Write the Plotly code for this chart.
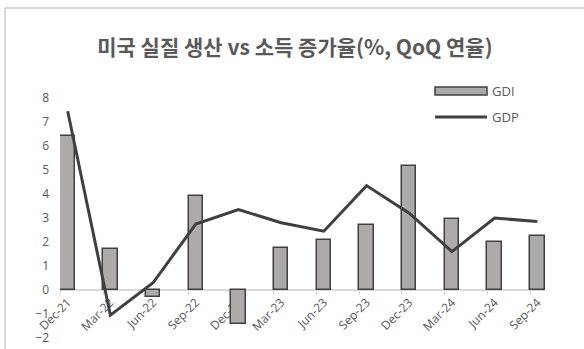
import plotly.graph_objects as go

quarters = ["Dec-21", "Mar-22", "Jun-22", "Sep-22", "Dec-22", "Mar-23",
            "Jun-23", "Sep-23", "Dec-23", "Mar-24", "Jun-24", "Sep-24"]
gdi = [6.4, 1.7, -0.3, 3.9, -1.4, 1.75, 2.1, 2.7, 5.15, 2.95, 2.0, 2.25]
gdp = [7.45, -1.05, 0.3, 2.75, 3.35, 2.8, 2.45, 4.35, 3.2, 1.6, 3.0, 2.85]
y_ticks = [-2, -1, 0, 1, 2, 3, 4, 5, 6, 7, 8]

W, H = 584, 349
ML, MR, MT, MB = 60, 39, 98, 11
PW, PH = W - ML - MR, H - MT - MB

def px(x):
    return (x - ML) / PW

def py(y):
    return (H - MB - y) / PH

xs = list(range(len(quarters)))
gray_txt = "#595959"
dark = "#404040"
bar_fill = "#AEAAAA"
border = "#d9d9d9"

fig = go.Figure()
fig.add_trace(go.Bar(x=xs, y=gdi, name="GDI", width=0.34,
                     marker=dict(color=bar_fill, line=dict(color=dark, width=1.5)),
                     showlegend=False))
fig.add_trace(go.Scatter(x=xs, y=gdp, name="GDP", mode="lines",
                         line=dict(color=dark, width=3), showlegend=False))

shapes = [
    dict(type="line", xref="paper", yref="paper", x0=px(5), x1=px(5),
         y0=py(349), y1=py(8), line=dict(color=border, width=2)),
    dict(type="line", xref="paper", yref="paper", x0=px(5), x1=px(584),
         y0=py(8), y1=py(8), line=dict(color=border, width=2)),
    dict(type="rect", xref="paper", yref="paper", x0=px(435), x1=px(487),
         y0=py(95), y1=py(87), fillcolor=bar_fill, line=dict(color=dark, width=1.5)),
    dict(type="line", xref="paper", yref="paper", x0=px(435), x1=px(487),
         y0=py(117), y1=py(117), line=dict(color=dark, width=3)),
]
annotations = [
    dict(text="GDI", xref="paper", yref="paper", x=px(490), y=py(91),
         xanchor="left", yanchor="middle", showarrow=False,
         font=dict(family="Open Sans", size=13, color=gray_txt)),
    dict(text="GDP", xref="paper", yref="paper", x=px(490), y=py(117),
         xanchor="left", yanchor="middle", showarrow=False,
         font=dict(family="Open Sans", size=13, color=gray_txt)),
]

fig.update_layout(
    width=W, height=H,
    margin=dict(l=ML, r=MR, t=MT, b=MB, autoexpand=False),
    paper_bgcolor="white", plot_bgcolor="white",
    title=dict(text="<b>미국 실질 생산 vs 소득 증가율(%, QoQ 연율)</b>",
               x=0.505, xref="container", xanchor="center",
               y=1 - 48 / H, yref="container", yanchor="middle",
               font=dict(family="Noto Sans CJK KR", size=21, color=gray_txt)),
    shapes=shapes, annotations=annotations,
    xaxis=dict(range=[-0.18, 11.18], tickmode="array", tickvals=xs, ticktext=quarters,
               tickangle=-45, anchor="free", position=0.2, automargin=False,
               showline=True, linecolor=border, linewidth=1.5,
               showgrid=False, zeroline=False, ticks="", layer="below traces",
               tickfont=dict(family="Open Sans", size=12, color=gray_txt),
               minor=dict(tickmode="linear", tick0=-0.17, dtick=1, ticks="outside",
                          ticklen=4, tickcolor=border, tickwidth=1, showgrid=False)),
    yaxis=dict(range=[-2, 8], tickmode="array", tickvals=y_ticks, automargin=False,
               showgrid=False, zeroline=False, showline=False, ticks="",
               ticklabelstandoff=10,
               tickfont=dict(family="Open Sans", size=12, color=gray_txt)),
    bargap=0,
)

fig.write_html("out.html", config={"displayModeBar": False},
               post_script="document.body.style.margin='0';document.body.style.overflow='hidden';")
